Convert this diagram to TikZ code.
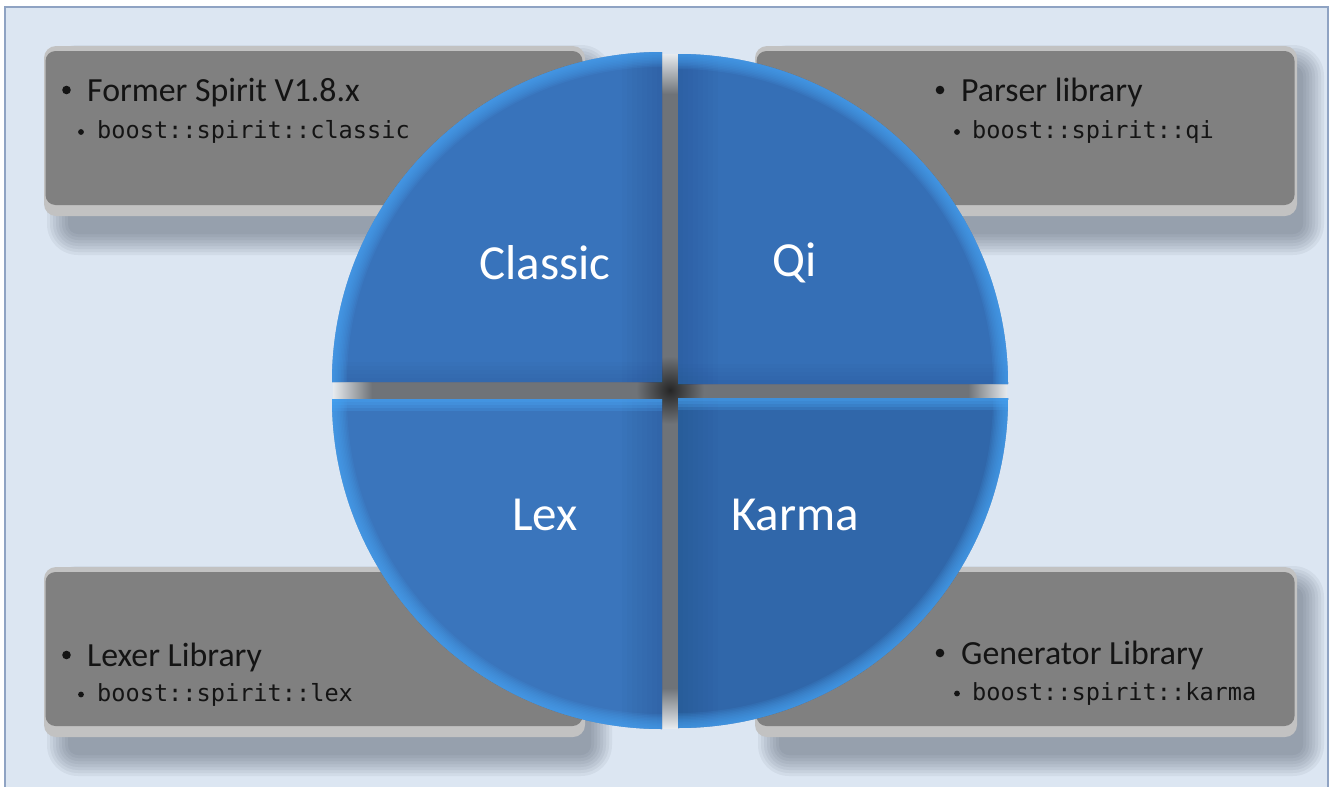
\documentclass[tikz,border=0pt]{standalone}
\usepackage{fontspec}
\newfontfamily\carlito{Carlito}
\newfontfamily\dmono{DejaVu Sans Mono}
\definecolor{bgcol}{HTML}{DCE6F2}
\definecolor{gapend}{HTML}{E6EAEE}
\definecolor{framecol}{HTML}{8FA3C3}
\definecolor{boxcol}{HTML}{808080}
\definecolor{bevelcol}{HTML}{C2C2C2}
\definecolor{shadowcol}{HTML}{3C4658}
\definecolor{txtcol}{HTML}{141414}
\definecolor{gapgray}{HTML}{6F7378}
\definecolor{gapdark}{HTML}{262626}
\definecolor{qlight}{HTML}{4BA8F8}
\definecolor{qdark}{HTML}{1F4A80}
\definecolor{qA}{HTML}{3873BB}
\definecolor{qB}{HTML}{356FB6}
\definecolor{qC}{HTML}{3A75BC}
\definecolor{qD}{HTML}{3067AA}
\newcommand\graybox[4]{%
  \foreach \e in {0,3,...,21}
    \fill[shadowcol, opacity=0.065, rounded corners=10+\e]
      (#1+24-\e,#2+20-\e) rectangle (#3+6+\e,#4+18+\e);
  \fill[bevelcol, rounded corners=12] (#1,#2) rectangle (#3,#4);
  \fill[boxcol, rounded corners=10] (#1+1.5,#2+5) rectangle (#3-2.5,#4-11);
}
\tikzset{
  maintxt/.style={anchor=base west, inner sep=0pt, text=txtcol, font=\carlito\fontsize{33.8}{34}\selectfont},
  codetxt/.style={anchor=base west, inner sep=0pt, text=txtcol, font=\dmono\fontsize{23.6}{24}\selectfont},
  qtxt/.style={inner sep=0pt, text=white, font=\carlito\fontsize{49}{49}\selectfont},
  rim/.style={qlight, opacity=0.11},
  dband/.style={qdark, opacity=0.04},
  lband/.style={qlight, opacity=0.22}
}
\begin{document}
\begin{tikzpicture}[x=1pt,y=-1pt]
\useasboundingbox (0,0) rectangle (1336,787);
\fill[white] (0,0) rectangle (1336,787);
\filldraw[fill=bgcol, draw=framecol, line width=2pt] (5,7) rectangle (1328,800);

% gray boxes
\graybox{44}{46}{585}{216}
\graybox{755}{46}{1297}{216}
\graybox{44}{567}{585}{737}
\graybox{755}{567}{1297}{737}

% box texts
\fill[txtcol] (66.5,90) circle (4.3);
\node[maintxt] (t1) at (87,101) {Former Spirit V1.8.x};
\fill[txtcol] (81,132) circle (2.9);
\node[codetxt] (c1) at (97,138.5) {boost::spirit::classic};

\fill[txtcol] (940,90) circle (4.3);
\node[maintxt] (t2) at (961,101) {Parser library};
\fill[txtcol] (957,132) circle (2.9);
\node[codetxt] (c2) at (972,138.5) {boost::spirit::qi};

\fill[txtcol] (66.5,655) circle (4.3);
\node[maintxt] (t3) at (87,666) {Lexer Library};
\fill[txtcol] (81,694.5) circle (2.9);
\node[codetxt] (c3) at (97,701) {boost::spirit::lex};

\fill[txtcol] (940,653) circle (4.3);
\node[maintxt] (t4) at (961,664) {Generator Library};
\fill[txtcol] (957,693.5) circle (2.9);
\node[codetxt] (c4) at (972,700) {boost::spirit::karma};

% gap underlay
\fill[gapgray] (372,380) rectangle (968,401);
\shade[left color=gapend, right color=gapgray] (333,380) rectangle (372,401);
\shade[left color=gapgray, right color=gapend] (968,380) rectangle (1007,401);
\fill[gapgray] (660,94) rectangle (680,688);
\shade[top color=gapend, bottom color=gapgray] (660,54) rectangle (680,94);
\shade[top color=gapgray, bottom color=gapend] (660,688) rectangle (680,728);
\shade[inner color=gapdark, outer color=gapgray] (670,390) circle (34);

% TL quadrant
\begin{scope}
\clip (662,382) -- (332,382) arc[start angle=180,end angle=270,radius=330] -- cycle;
\fill[qA] (330,50) rectangle (664,384);
\foreach \i in {1,...,8} \fill[dband] (662-5*\i,50) rectangle (664,384);
\foreach \i in {1,...,5} \fill[dband] (330,382-4*\i) rectangle (664,384);
\foreach \w in {3,6,...,30} \draw[rim, line width=\w pt] (332,382) arc[start angle=180,end angle=270,radius=330];
\end{scope}

% TR quadrant
\begin{scope}
\clip (678,384) -- (1008,384) arc[start angle=0,end angle=-90,radius=330] -- cycle;
\fill[qB] (676,52) rectangle (1010,386);
\foreach \i in {1,...,8} \fill[dband] (676,52) rectangle (678+5*\i,386);
\foreach \i in {1,...,5} \fill[dband] (676,384-4*\i) rectangle (1010,386);
\foreach \w in {3,6,...,30} \draw[rim, line width=\w pt] (1008,384) arc[start angle=0,end angle=-90,radius=330];
\end{scope}

% BL quadrant
\begin{scope}
\clip (662,399) -- (332,399) arc[start angle=180,end angle=90,radius=330] -- cycle;
\fill[qC] (330,397) rectangle (664,731);
\foreach \i in {1,...,8} \fill[dband] (662-5*\i,397) rectangle (664,731);
\foreach \i in {1,...,4} \fill[lband] (330,397) rectangle (664,399+3*\i);
\foreach \w in {3,6,...,30} \draw[rim, line width=\w pt] (332,399) arc[start angle=180,end angle=90,radius=330];
\end{scope}

% BR quadrant
\begin{scope}
\clip (678,398) -- (1008,398) arc[start angle=0,end angle=90,radius=330] -- cycle;
\fill[qD] (676,396) rectangle (1010,730);
\foreach \i in {1,...,8} \fill[dband] (676,396) rectangle (678+5*\i,730);
\foreach \i in {1,...,4} \fill[lband] (676,396) rectangle (1010,398+3*\i);
\foreach \w in {3,6,...,30} \draw[rim, line width=\w pt] (1008,398) arc[start angle=0,end angle=90,radius=330];
\end{scope}

% quadrant labels
\node[qtxt] (lclassic) at (545,263) {Classic};
\node[qtxt] (lqi) at (795,263) {Qi};
\node[qtxt] (llex) at (545,515) {Lex};
\node[qtxt] (lkarma) at (795,515) {Karma};
\end{tikzpicture}
\end{document}
